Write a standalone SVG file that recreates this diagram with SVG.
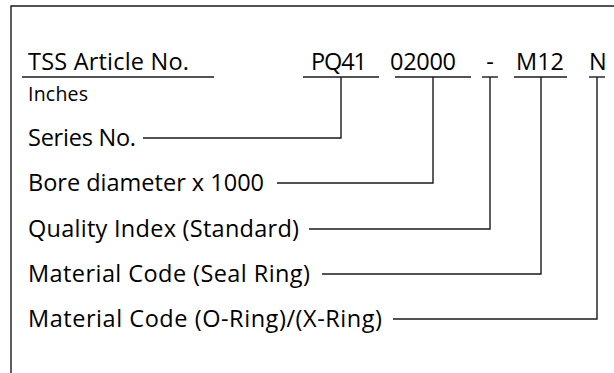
<svg xmlns="http://www.w3.org/2000/svg" width="614" height="373" viewBox="0 0 614 373">
<style>
text{font-family:"Open Sans","Noto Sans","Liberation Sans",sans-serif;font-size:23.5px;fill:#000}
.small{font-size:19.5px}
.ln{fill:none;stroke:#1a1a1a;stroke-width:1.4}
</style>
<rect width="614" height="373" fill="#fff"/>
<g id="frame"><polyline class="ln" points="11,373 11,6 614,6"/></g>
<g id="header">
<text x="28" y="70" textLength="161">TSS Article No.</text>
<line class="ln" x1="22" y1="77" x2="214" y2="77"/>
<text class="small" x="28" y="101" textLength="60">Inches</text>
</g>
<g id="code-pq41"><text x="311" y="70" textLength="56">PQ41</text><line class="ln" x1="303" y1="77" x2="379" y2="77"/></g>
<g id="code-02000"><text x="390" y="70" textLength="66">02000</text><line class="ln" x1="395" y1="77" x2="471" y2="77"/></g>
<g id="code-dash"><text x="490" y="70" text-anchor="middle">-</text><line class="ln" x1="482" y1="77" x2="498" y2="77"/></g>
<g id="code-m12"><text x="516" y="70" textLength="48">M12</text><line class="ln" x1="514" y1="77" x2="567" y2="77"/></g>
<g id="code-n"><text x="589" y="70">N</text><line class="ln" x1="589" y1="77" x2="605" y2="77"/></g>
<g id="label-series"><text x="28" y="146" textLength="108">Series No.</text></g>
<g id="label-bore"><text x="28" y="191" textLength="236">Bore diameter x 1000</text></g>
<g id="label-quality"><text x="28" y="237" textLength="271">Quality Index (Standard)</text></g>
<g id="label-seal"><text x="28" y="282" textLength="282">Material Code (Seal Ring)</text></g>
<g id="label-oring"><text x="28" y="327" textLength="354">Material Code (O-Ring)/(X-Ring)</text></g>
<g id="connectors">
<polyline class="ln" points="143,138 341,138 341,77"/>
<polyline class="ln" points="277,183 433,183 433,77"/>
<polyline class="ln" points="309,229 490,229 490,77"/>
<polyline class="ln" points="322,274 541,274 541,77"/>
<polyline class="ln" points="393,319 597,319 597,77"/>
</g>
</svg>
